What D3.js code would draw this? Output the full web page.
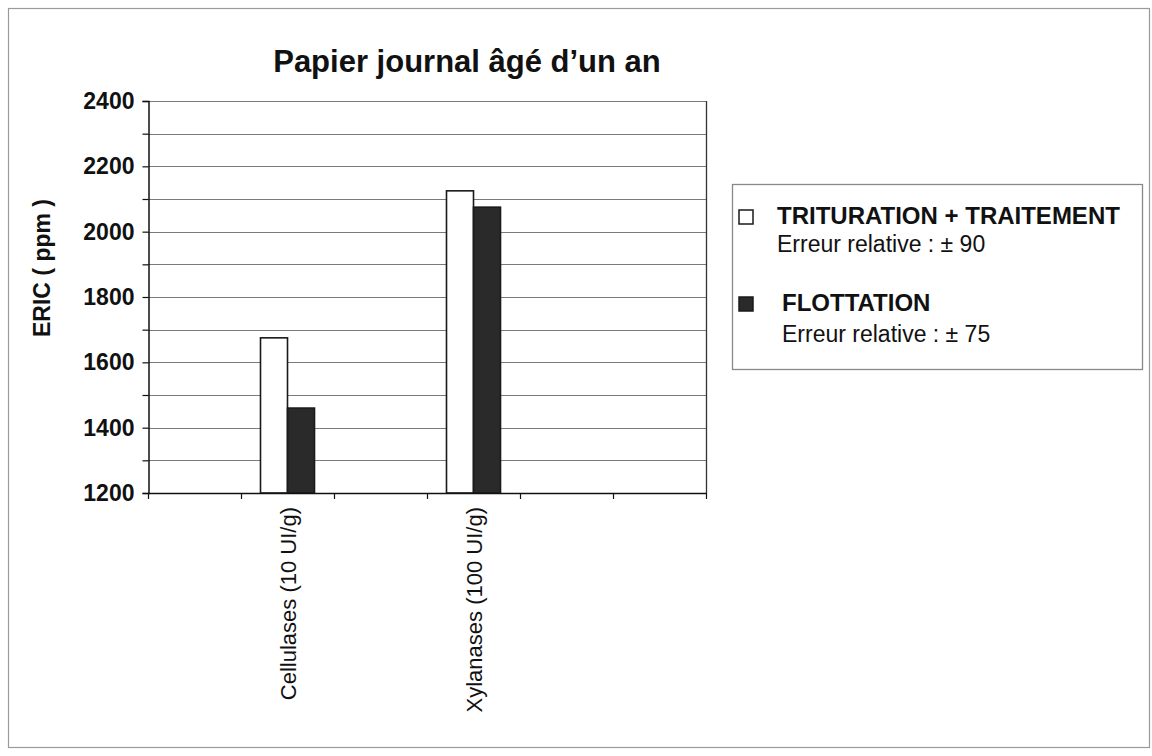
<!DOCTYPE html>
<html>
<head>
<meta charset="utf-8">
<script src="https://cdn.jsdelivr.net/npm/d3@7"></script>
<style>
  html, body { margin: 0; padding: 0; background: #fff; }
  svg { display: block; font-family: "Liberation Sans", Arial, sans-serif; }
</style>
</head>
<body>
<svg id="chart" width="1152" height="756"></svg>
<script>
// Category slots along the x axis (empty slots keep their tick but have no bars)
const categories = ["", "Cellulases (10 UI/g)", "", "Xylanases (100 UI/g)", "", ""];
const seriesNames = ["TRITURATION + TRAITEMENT", "FLOTTATION"];
const seriesErrors = ["Erreur relative : ± 90", "Erreur relative : ± 75"];
const triturationValues = [null, 1675, null, 2125, null, null];
const flottationValues = [null, 1460, null, 2075, null, null];
const yTicks = [1200, 1400, 1600, 1800, 2000, 2200, 2400];
const yGridTicks = [1200, 1300, 1400, 1500, 1600, 1700, 1800, 1900, 2000, 2100, 2200, 2300, 2400];
const titleText = "Papier journal âgé d\u2019un an";
const yTitleText = "ERIC  ( ppm )";

const svg = d3.select("#chart");

// Outer frame
svg.append("rect")
  .attr("x", 8.5).attr("y", 8.5).attr("width", 1141).attr("height", 739)
  .attr("fill", "none").attr("stroke", "#9a9a9a").attr("stroke-width", 1.2);

const plot = { left: 148, right: 706, top: 101, bottom: 493 };

const x = d3.scaleBand().domain(d3.range(categories.length)).range([plot.left, plot.right]).paddingInner(0);
const groupW = 54;
const xs = d3.scaleBand().domain([0, 1]).range([0, groupW]).paddingInner(0);
const y = d3.scaleLinear().domain([1200, 2400]).range([plot.bottom, plot.top]);

// Horizontal gridlines every 100 ppm
svg.append("g").selectAll("line").data(yGridTicks).join("line")
  .attr("x1", plot.left).attr("x2", plot.right)
  .attr("y1", d => Math.round(y(d)) + 0.5).attr("y2", d => Math.round(y(d)) + 0.5)
  .attr("stroke", "#7a7a7a").attr("stroke-width", 1.2);

// Right edge of plot area
svg.append("line")
  .attr("x1", plot.right + 0.5).attr("x2", plot.right + 0.5)
  .attr("y1", plot.top).attr("y2", plot.bottom)
  .attr("stroke", "#333").attr("stroke-width", 1.3);

// Bars
const series = [triturationValues, flottationValues];
const fills = ["#ffffff", "#2a2a2a"];
series.forEach((vals, si) => {
  svg.append("g").selectAll("rect")
    .data(vals.map((v, i) => ({ v, i })).filter(d => d.v != null))
    .join("rect")
    .attr("x", d => x(d.i) + (x.bandwidth() - groupW) / 2 + xs(si))
    .attr("y", d => y(d.v))
    .attr("width", xs.bandwidth())
    .attr("height", d => y(1200) - y(d.v))
    .attr("fill", fills[si])
    .attr("stroke", "#1a1a1a").attr("stroke-width", 1.6);
});

// Y axis
const yAxis = d3.axisLeft(y).tickValues(yGridTicks)
  .tickFormat(d => yTicks.includes(d) ? d : "")
  .tickSize(6).tickPadding(8);
const gy = svg.append("g").attr("transform", `translate(${plot.left + 0.5},0)`).call(yAxis);
gy.select(".domain").attr("stroke", "#111").attr("stroke-width", 1.5);
gy.selectAll(".tick line").attr("stroke", "#111").attr("stroke-width", 1.2);
gy.selectAll(".tick text")
  .attr("font-family", "'Liberation Sans', Arial, sans-serif")
  .attr("font-size", 23).attr("font-weight", "bold").attr("fill", "#111");

// X axis: ticks at slot boundaries
const bounds = d3.range(categories.length + 1).map(i => plot.left + i * x.step());
const gx = svg.append("g");
gx.append("line")
  .attr("x1", plot.left).attr("x2", plot.right)
  .attr("y1", plot.bottom + 0.5).attr("y2", plot.bottom + 0.5)
  .attr("stroke", "#111").attr("stroke-width", 1.5);
gx.selectAll("line.tk").data(bounds).join("line").attr("class", "tk")
  .attr("x1", d => d + 0.5).attr("x2", d => d + 0.5)
  .attr("y1", plot.bottom).attr("y2", plot.bottom + 6)
  .attr("stroke", "#111").attr("stroke-width", 1.2);

// Rotated category labels
gx.selectAll("text").data(categories.map((c, i) => ({ c, i })).filter(d => d.c))
  .join("text")
  .attr("transform", d => `translate(${x(d.i) + x.bandwidth() / 2 + 8},${plot.bottom + 14}) rotate(-90)`)
  .attr("text-anchor", "end")
  .attr("font-size", 22).attr("fill", "#111")
  .text(d => d.c);

// Title
svg.append("text")
  .attr("x", 467).attr("y", 72)
  .attr("text-anchor", "middle")
  .attr("font-size", 31).attr("font-weight", "bold").attr("fill", "#111")
  .text(titleText);

// Y axis title
svg.append("text")
  .attr("transform", "translate(50,268) rotate(-90)")
  .attr("text-anchor", "middle")
  .attr("font-size", 23).attr("font-weight", "bold").attr("fill", "#111")
  .text(yTitleText);

// Legend
const lg = svg.append("g");
lg.append("rect")
  .attr("x", 732.5).attr("y", 184.5).attr("width", 410).attr("height", 185)
  .attr("fill", "#fff").attr("stroke", "#888").attr("stroke-width", 1.3);
const legendRows = [
  { sx: 739, sy: 210, tx: 777, ty: 224, ey: 252 },
  { sx: 739, sy: 297, tx: 782, ty: 311, ey: 342 }
];
legendRows.forEach((r, i) => {
  lg.append("rect")
    .attr("x", r.sx).attr("y", r.sy).attr("width", 14).attr("height", 14)
    .attr("fill", fills[i]).attr("stroke", "#1a1a1a").attr("stroke-width", 1.5);
  lg.append("text").attr("x", r.tx).attr("y", r.ty)
    .attr("font-size", 24).attr("font-weight", "bold").attr("fill", "#111")
    .text(seriesNames[i]);
  lg.append("text").attr("x", r.tx).attr("y", r.ey)
    .attr("font-size", 23).attr("fill", "#111")
    .text(seriesErrors[i]);
});
</script>
</body>
</html>
